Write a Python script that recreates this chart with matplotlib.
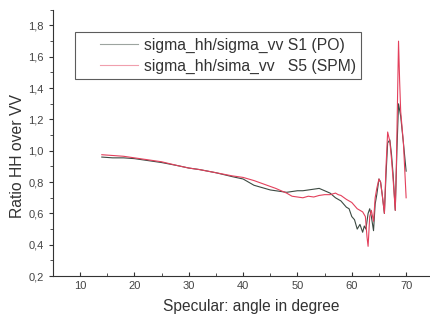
import numpy as np
import matplotlib
matplotlib.use("Agg")
import matplotlib.pyplot as plt
from matplotlib.ticker import MultipleLocator, FuncFormatter
from matplotlib.legend_handler import HandlerLine2D

plt.rcParams['font.family'] = ['Liberation Sans', 'DejaVu Sans']

# PO curve (dark)
angle_po = [14, 16, 18, 20, 22, 25, 28, 30, 32, 35, 38, 40, 41, 42, 43, 44, 45, 46, 47, 48,
            49, 50, 51, 52, 53, 54, 55, 56, 57, 58, 59, 59.5, 60, 60.5, 61, 61.5, 62, 62.3,
            62.6, 63, 63.3, 63.6, 64, 64.3, 64.6, 65, 65.3, 65.6, 66, 66.3, 66.6, 67, 67.3,
            67.6, 68, 68.3, 68.6, 69, 69.5, 70]
ratio_po = [0.96, 0.955, 0.955, 0.95, 0.94, 0.925, 0.905, 0.89, 0.88, 0.86, 0.835, 0.82,
            0.80, 0.78, 0.77, 0.76, 0.75, 0.745, 0.74, 0.735, 0.74, 0.745, 0.745, 0.75, 0.755,
            0.76, 0.745, 0.73, 0.70, 0.68, 0.64, 0.63, 0.58, 0.56, 0.50, 0.53, 0.48, 0.52,
            0.50, 0.60, 0.63, 0.58, 0.49, 0.66, 0.72, 0.82, 0.80, 0.72, 0.60, 0.85, 1.05,
            1.07, 0.98, 0.85, 0.62, 1.00, 1.30, 1.22, 1.05, 0.87]

# SPM curve (red)
angle_spm = [14, 16, 18, 20, 22, 25, 28, 30, 32, 35, 38, 40, 42, 44, 46, 48, 49, 50, 51, 52,
             53, 54, 55, 56, 57, 57.5, 58, 59, 60, 61, 61.5, 62, 62.5, 62.8, 63, 63.3, 63.6,
             64, 64.3, 64.6, 65, 65.3, 65.6, 66, 66.3, 66.6, 67, 67.3, 67.6, 68, 68.2, 68.5,
             68.6, 68.8, 69, 69.5, 70]
ratio_spm = [0.975, 0.97, 0.965, 0.955, 0.945, 0.93, 0.905, 0.89, 0.88, 0.86, 0.84, 0.83,
             0.81, 0.785, 0.76, 0.73, 0.71, 0.705, 0.70, 0.71, 0.705, 0.715, 0.72, 0.72, 0.73,
             0.72, 0.715, 0.69, 0.67, 0.63, 0.62, 0.61, 0.58, 0.45, 0.39, 0.58, 0.62, 0.55,
             0.70, 0.76, 0.82, 0.80, 0.72, 0.60, 0.90, 1.12, 1.06, 0.95, 0.82, 0.62, 0.90,
             1.50, 1.70, 1.45, 1.25, 1.05, 0.70]

fig = plt.figure(figsize=(4.3, 3.17), dpi=100)
# axes runs a bit past the right edge, like the cropped original
ax = fig.add_axes([0.123, 0.129, 0.9226, 0.84])

ax.plot(angle_po, ratio_po, color='#3c4a42', lw=0.8, label='sigma_hh/sigma_vv S1 (PO)')
ax.plot(angle_spm, ratio_spm, color='#e3405c', lw=0.8, label='sigma_hh/sima_vv   S5 (SPM)')

ax.set_xlim(5, 78)
ax.set_ylim(0.2, 1.9)
ax.xaxis.set_major_locator(MultipleLocator(10))
ax.xaxis.set_minor_locator(MultipleLocator(5))
ax.yaxis.set_major_locator(MultipleLocator(0.2))
ax.yaxis.set_minor_locator(MultipleLocator(0.1))
ax.xaxis.set_major_formatter(FuncFormatter(lambda v, p: f"{v:.0f}" if v <= 70 else ""))
ax.yaxis.set_major_formatter(FuncFormatter(lambda v, p: f"{v:.1f}".replace('.', ',')))

ax.spines['top'].set_visible(False)
ax.spines['right'].set_visible(False)
for s in ('left', 'bottom'):
    ax.spines[s].set_color('#333333')
    ax.spines[s].set_linewidth(0.8)

ax.tick_params(axis='x', which='both', direction='in', labelsize=8, labelcolor='#444444',
               color='#333333')
ax.tick_params(axis='y', which='both', direction='out', labelsize=8, labelcolor='#444444',
               color='#333333')
ax.tick_params(which='major', length=3)
ax.tick_params(which='minor', length=2)

ax.set_xlabel('Specular: angle in degree', fontsize=11.2, color='#333333')
ax.set_ylabel('Ratio HH over VV', fontsize=11.3, color='#333333')
ax.xaxis.set_label_coords(0.499, -0.085)
ax.yaxis.set_label_coords(-0.07, 0.45)

leg = ax.legend(loc='upper left', bbox_to_anchor=(0.055, 0.917), borderaxespad=0,
                fontsize=11.3, frameon=True, fancybox=False, handlelength=3.64,
                borderpad=0.37, labelspacing=0.35, handletextpad=0.38,
                handler_map={plt.Line2D: HandlerLine2D(xpad=1.22)})
leg.get_frame().set_edgecolor('#333333')
leg.get_frame().set_linewidth(0.8)
for t in leg.get_texts():
    t.set_color('#333333')
for h in leg.get_lines():
    h.set_alpha(0.5)

fig.savefig('out.png', dpi=100)
